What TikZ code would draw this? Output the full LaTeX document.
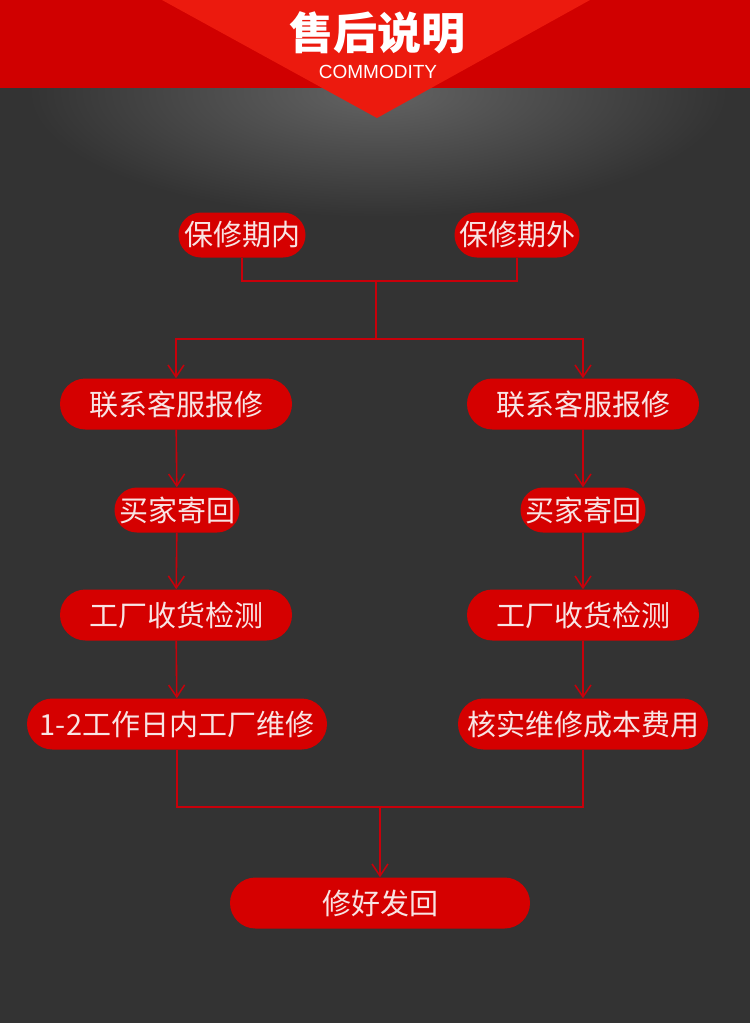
\documentclass[tikz,border=0pt]{standalone}
\usepackage{fontspec}
\setmainfont{Noto Sans CJK SC}
\newfontfamily\latinfont{Liberation Sans}
\usetikzlibrary{arrows.meta,shapes.misc}
\definecolor{bgdark}{HTML}{333333}
\definecolor{glowgray}{HTML}{636363}
\definecolor{bandred}{HTML}{D00000}
\definecolor{tipred}{HTML}{EC1A0E}
\definecolor{boxred}{HTML}{D50000}
\definecolor{linered}{HTML}{C8000A}
\definecolor{boxtext}{HTML}{F8E4E4}
\pgfdeclareradialshading{glow}{\pgfpoint{0bp}{0bp}}{color(0bp)=(glowgray);color(25bp)=(bgdark);color(50bp)=(bgdark)}
\tikzset{
  stepnode/.style={rounded rectangle,fill=boxred,text=boxtext,inner sep=0pt,
    minimum height=51pt,font=\fontsize{29}{32}\selectfont},
  smallnode/.style={stepnode,minimum height=45pt},
  link/.style={draw=linered,line width=1.6pt},
  flow/.style={link,-{Straight Barb[length=12pt,width=16pt,line width=1.5pt]}}
}
\begin{document}
\begin{tikzpicture}[x=1pt,y=-1pt]
  \useasboundingbox (0,0) rectangle (750,1023);
  \fill[bgdark] (0,0) rectangle (750,1023);
  \begin{scope}
    \clip (0,0) rectangle (750,1023);
    \shade[shading=glow] (378,92) ellipse [x radius=350pt,y radius=125pt];
  \end{scope}
  % header
  \fill[bandred] (0,0) rectangle (750,88);
  \fill[tipred] (162,0) -- (590,0) -- (377,118) -- cycle;
  \node[text=white,font=\fontsize{44}{48}\selectfont\bfseries] (title) at (377,33) {售后说明};
  \node[text=white,font=\latinfont\fontsize{19}{21}\selectfont] (sub) at (378,72) {COMMODITY};

  \node[smallnode,minimum width=127pt] (in) at (242,235) {保修期内};
  \node[smallnode,minimum width=125pt] (out) at (517,235) {保修期外};

  \node[stepnode,minimum width=232pt] (l1) at (176,404) {联系客服报修};
  \node[smallnode,minimum width=125pt] (l2) at (177,510) {买家寄回};
  \node[stepnode,minimum width=232pt] (l3) at (176,615) {工厂收货检测};
  \node[stepnode,minimum width=300pt] (l4) at (177,724) {1-2工作日内工厂维修};

  \node[stepnode,minimum width=232pt] (r1) at (583,404) {联系客服报修};
  \node[smallnode,minimum width=125pt] (r2) at (583,510) {买家寄回};
  \node[stepnode,minimum width=232pt] (r3) at (583,615) {工厂收货检测};
  \node[stepnode,minimum width=250pt] (r4) at (583,724) {核实维修成本费用};

  \node[stepnode,minimum width=300pt] (done) at (380,903) {修好发回};

  \coordinate (top) at (376,281);
  \coordinate (split) at (376,339);
  \coordinate (join) at (380,807);

  \draw[link] (in.south) |- (top) -| (out.south);
  \draw[link] (top) -- (split);
  \draw[flow] (split) -| (l1.north);
  \draw[flow] (split) -| (r1.north);
  \draw[flow] (l1) -- (l2);
  \draw[flow] (l2) -- (l3);
  \draw[flow] (l3) -- (l4);
  \draw[flow] (r1) -- (r2);
  \draw[flow] (r2) -- (r3);
  \draw[flow] (r3) -- (r4);
  \draw[link] (l4.south) |- (join) -| (r4.south);
  \draw[flow] (join) -- (done);
\end{tikzpicture}
\end{document}
